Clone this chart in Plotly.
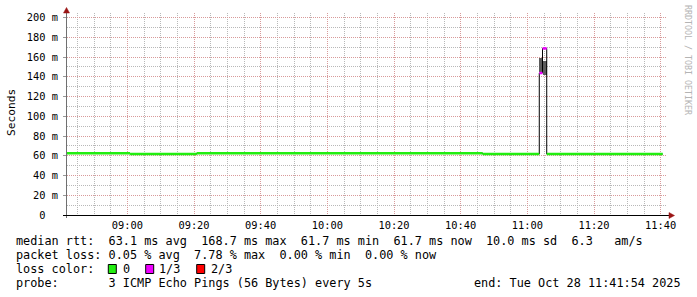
import plotly.graph_objects as go
import pandas as pd

# ---------------- data ----------------
day = "2025-10-28 "
edges = [day + t for t in ["08:41:54", "09:00:48", "09:20:49", "10:46:37",
                           "11:03:35", "11:04:33", "11:05:49", "11:40:37"]]
median_ms = [62.5, 61.7, 62.5, 61.7, 143.8, 168.7, 61.7]      # per interval
lost_pings = [0, 0, 0, 0, 1, 1, 0]                            # of 3 pings
smoke_low_ms = [None, None, None, None, 145.1, 141.8, None]
smoke_high_ms = [None, None, None, None, 158.7, 156.3, None]

loss_codes = [0, 1, 2]
loss_labels = ["0", "1/3", "2/3"]
loss_colors = ["#22ee11", "#ee00ff", "#ff0000"]

x_range = [day + "08:41:54", day + "11:41:54"]
y_tickvals = [0, 20, 40, 60, 80, 100, 120, 140, 160, 180, 200]
y_ticktext = ["0  ", "20 m", "40 m", "60 m", "80 m", "100 m", "120 m",
              "140 m", "160 m", "180 m", "200 m"]

line_rtt = "median rtt:  63.1 ms avg  168.7 ms max  61.7 ms min  61.7 ms now  10.0 ms sd  6.3   am/s"
line_loss = "packet loss: 0.05 % avg  7.78 % max  0.00 % min  0.00 % now"
line_color_label = "loss color:"
line_probe = "probe:       3 ICMP Echo Pings (56 Bytes) every 5s"
line_end = "end: Tue Oct 28 11:41:54 2025"
y_title = "Seconds"
watermark = "RRDTOOL / TOBI OETIKER"

# ---------------- geometry helpers (layout only) ----------------
W, H = 697, 297
L, R, T, B = 67, 30, 13, 82
PW, PH = W - L - R, H - T - B


def px_x(p):
    return (p - L) / PW


def px_y(p):
    return (H - B - p) / PH


MONO = "DejaVu Sans Mono"
t_edges = pd.to_datetime(edges)

fig = go.Figure()

# smoke
sm_x, sm_base, sm_h, sm_w = [], [], [], []
for i in range(len(median_ms)):
    if smoke_low_ms[i] is not None:
        a, b = t_edges[i], t_edges[i + 1]
        sm_x.append(a + (b - a) / 2)
        sm_base.append(smoke_low_ms[i])
        sm_h.append(smoke_high_ms[i] - smoke_low_ms[i])
        sm_w.append((b - a).total_seconds() * 1000)
fig.add_trace(go.Bar(x=sm_x, y=sm_h, base=sm_base, width=sm_w,
                     marker=dict(color="#5c5c5c", line=dict(width=0)),
                     hoverinfo="skip", showlegend=False))

# black median step line
fig.add_trace(go.Scatter(x=t_edges, y=median_ms + [median_ms[-1]], mode="lines",
                         line=dict(color="#000000", width=1, shape="hv"),
                         hoverinfo="skip", showlegend=False))

# colored median segments by loss
for code, col in zip(loss_codes, loss_colors):
    xs, ys = [], []
    for i, v in enumerate(median_ms):
        if lost_pings[i] == code:
            xs += [t_edges[i], t_edges[i + 1], None]
            ys += [v, v, None]
    if xs:
        fig.add_trace(go.Scatter(x=xs, y=ys, mode="lines",
                                 line=dict(color=col, width=2.5),
                                 connectgaps=False, hoverinfo="skip", showlegend=False))

major_grid = "#d89a9a"
minor_grid = "#b8b8b8"
dash = "1px,1px"

fig.update_layout(
    width=W, height=H, autosize=False,
    margin=dict(l=L, r=R, t=T, b=B, pad=0),
    paper_bgcolor="white", plot_bgcolor="white",
    showlegend=False, bargap=0,
    xaxis=dict(type="date", range=x_range, tick0=day + "09:00:00",
               dtick=20 * 60 * 1000, tickformat="%H:%M",
               showgrid=True, gridcolor=major_grid, griddash=dash, gridwidth=1,
               minor=dict(dtick=5 * 60 * 1000, tick0=day + "09:00:00", showgrid=True,
                          gridcolor=minor_grid, griddash=dash, gridwidth=1),
               showline=False, zeroline=False, ticks="", ticklabelstandoff=3,
               tickfont=dict(family=MONO, size=10.35, color="#000000")),
    yaxis=dict(range=[0, 204.6], tickmode="array", tickvals=y_tickvals, ticktext=y_ticktext,
               showgrid=True, gridcolor=major_grid, griddash=dash, gridwidth=1,
               minor=dict(dtick=10, tick0=0, showgrid=True, gridcolor=minor_grid,
                          griddash=dash, gridwidth=1),
               showline=False, zeroline=False, ticks="outside", ticklen=3,
               tickcolor="#999999", ticklabelstandoff=3,
               tickfont=dict(family=MONO, size=10.35, color="#000000")),
)

shapes = []
# axes
shapes.append(dict(type="line", xref="paper", yref="paper",
                   x0=px_x(66.5), x1=px_x(66.5), y0=px_y(12), y1=px_y(218),
                   line=dict(color="#707070", width=1)))
shapes.append(dict(type="line", xref="paper", yref="paper",
                   x0=px_x(63), x1=px_x(670), y0=px_y(215.5), y1=px_y(215.5),
                   line=dict(color="#000000", width=1)))
# arrows
arrow_col = "#9a1414"
shapes.append(dict(type="path", xref="paper", yref="paper",
                   path="M %f,%f L %f,%f L %f,%f Z" % (px_x(66.5), px_y(7.5), px_x(63.5), px_y(13),
                                                      px_x(69.5), px_y(13)),
                   fillcolor=arrow_col, line=dict(color=arrow_col, width=0.5)))
shapes.append(dict(type="path", xref="paper", yref="paper",
                   path="M %f,%f L %f,%f L %f,%f Z" % (px_x(674.5), px_y(215.5), px_x(669), px_y(212.5),
                                                      px_x(669), px_y(218.5)),
                   fillcolor=arrow_col, line=dict(color=arrow_col, width=0.5)))

annotations = []


def add_text(txt, xpx, ypx, size=11.83, color="#000000", xanchor="left", angle=0, family=MONO):
    annotations.append(dict(text=txt.replace(" ", "\u00a0"), xref="paper", yref="paper",
                            x=px_x(xpx), y=px_y(ypx), xanchor=xanchor, yanchor="middle",
                            showarrow=False, textangle=angle, borderpad=0, borderwidth=0,
                            font=dict(family=family, size=size, color=color)))


add_text(y_title, 11, 113, size=11.2, xanchor="center", angle=-90)
add_text(watermark, 688, 60, size=8.3, color="#b4b4b4", xanchor="center", angle=90)
add_text(line_rtt, 15.7, 241)
add_text(line_loss, 15.7, 255)
add_text(line_color_label, 15.7, 269)
add_text(line_probe, 15.7, 283)
add_text(line_end, 681, 283, xanchor="right")

# loss colour legend
box_x = [108.3, 145.7, 196.7]
lab_x = [122.6, 159.3, 210.8]
for bx, lx, col, lab in zip(box_x, lab_x, loss_colors, loss_labels):
    shapes.append(dict(type="rect", xref="paper", yref="paper",
                       x0=px_x(bx), x1=px_x(bx + 8), y0=px_y(264.5), y1=px_y(273.5),
                       fillcolor=col, line=dict(color="#000000", width=1)))
    add_text(lab, lx, 269)

fig.update_layout(shapes=shapes, annotations=annotations)
fig.write_html("out.html")
